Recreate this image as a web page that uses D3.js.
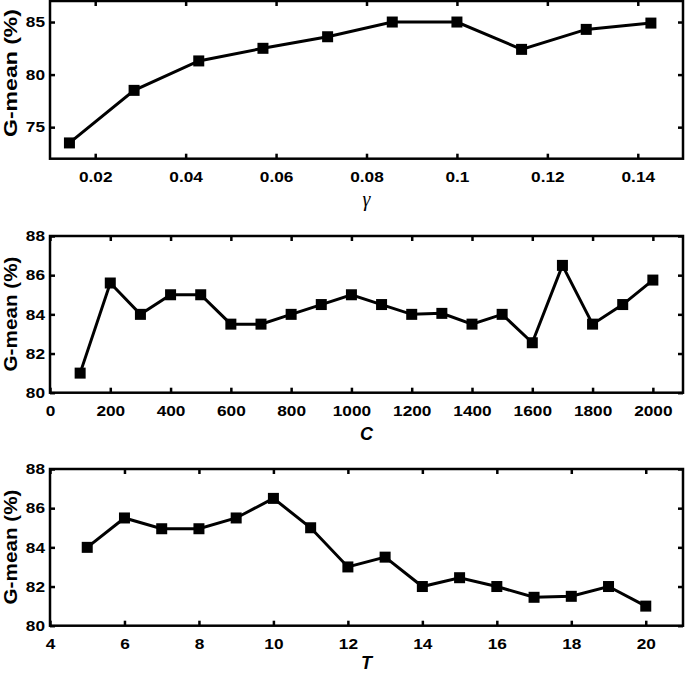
<!DOCTYPE html>
<html><head><meta charset="utf-8">
<script src="https://cdn.jsdelivr.net/npm/d3@7"></script>
<style>body{margin:0;background:#fff} svg{display:block}</style>
</head><body><svg id="c" width="685" height="674"></svg>
<script>
// ---- data ----
const gammaValues = [0.0143, 0.0286, 0.0429, 0.0571, 0.0714, 0.0857, 0.1, 0.1143, 0.1286, 0.1429];
const gammaGmean  = [73.5, 78.5, 81.3, 82.5, 83.6, 85.0, 85.0, 82.4, 84.3, 84.9];
const cValues = [100, 200, 300, 400, 500, 600, 700, 800, 900, 1000, 1100, 1200, 1300, 1400, 1500, 1600, 1700, 1800, 1900, 2000];
const cGmean  = [81.0, 85.6, 84.0, 85.0, 85.0, 83.5, 83.5, 84.0, 84.5, 85.0, 84.5, 84.0, 84.05, 83.5, 84.0, 82.55, 86.5, 83.5, 84.5, 85.75];
const tValues = [5, 6, 7, 8, 9, 10, 11, 12, 13, 14, 15, 16, 17, 18, 19, 20];
const tGmean  = [84.0, 85.5, 84.95, 84.95, 85.5, 86.5, 85.0, 83.0, 83.5, 82.0, 82.45, 82.0, 81.45, 81.5, 82.0, 81.0];
const gammaTicks = [0.02, 0.04, 0.06, 0.08, 0.1, 0.12, 0.14];
const cTicks = [0, 200, 400, 600, 800, 1000, 1200, 1400, 1600, 1800, 2000];
const tTicks = [4, 6, 8, 10, 12, 14, 16, 18, 20];
const gmeanTicks1 = [75, 80, 85];
const gmeanTicks23 = [80, 82, 84, 86, 88];
const yTitle = "G-mean (%)";
const xTitles = ["γ", "C", "T"];

// ---- layout ----
const svg = d3.select("#c");
const L = 50, R = 683;
const panels = [
  {xs: gammaValues, ys: gammaGmean, xDom: [0.01, 0.15], yDom: [72, 87], xTicks: gammaTicks, yTicks: gmeanTicks1,
   top: 1, bottom: 158.7, title: xTitles[0], titleY: 205.5, titleFont: "italic 400 20px 'Liberation Serif', serif",
   labelLen: 128, labelCy: 73},
  {xs: cValues, ys: cGmean, xDom: [0, 2100], yDom: [80, 88], xTicks: cTicks, yTicks: gmeanTicks23,
   top: 236, bottom: 392.7, title: xTitles[1], titleY: 440, titleFont: "italic 700 18px 'Liberation Sans', Arial, sans-serif",
   labelLen: 115, labelCy: 314},
  {xs: tValues, ys: tGmean, xDom: [4, 21], yDom: [80, 88], xTicks: tTicks, yTicks: gmeanTicks23,
   top: 469, bottom: 625.7, title: xTitles[2], titleY: 669, titleFont: "italic 700 18px 'Liberation Sans', Arial, sans-serif",
   labelLen: 115, labelCy: 547}
];
const SX = 1.15;
const tickFont = "'Liberation Sans', Arial, Helvetica, sans-serif";

panels.forEach(p => {
  const x = d3.scaleLinear().domain(p.xDom).range([L, R]);
  const y = d3.scaleLinear().domain(p.yDom).range([p.bottom, p.top]);
  const g = svg.append("g");

  function style(ax) {
    ax.select(".domain").remove();
    ax.selectAll(".tick line").attr("stroke", "#000").attr("stroke-width", 2.5);
    ax.attr("font-family", tickFont).attr("font-size", 15).attr("font-weight", "bold");
    ax.selectAll(".tick text").attr("fill", "#000");
  }

  const bx = g.append("g").attr("transform", `translate(0,${p.bottom})`)
    .call(d3.axisBottom(x).tickValues(p.xTicks).tickSizeInner(-5).tickSizeOuter(0).tickPadding(12.3).tickFormat(d => String(d)));
  style(bx);
  bx.selectAll(".tick text").attr("transform", `scale(${SX},1)`);

  const tx = g.append("g").attr("transform", `translate(0,${p.top})`)
    .call(d3.axisTop(x).tickValues(p.xTicks).tickSizeInner(-5).tickSizeOuter(0).tickFormat(""));
  style(tx);

  const ly = g.append("g").attr("transform", `translate(${L},0)`)
    .call(d3.axisLeft(y).tickValues(p.yTicks).tickSizeInner(-5).tickSizeOuter(0).tickPadding(5).tickFormat(d => String(d)));
  style(ly);
  ly.selectAll(".tick text").attr("x", -5 / SX).attr("transform", `scale(${SX},1)`);

  const ry = g.append("g").attr("transform", `translate(${R},0)`)
    .call(d3.axisRight(y).tickValues(p.yTicks).tickSizeInner(-5).tickSizeOuter(0).tickFormat(""));
  style(ry);

  // frame
  g.append("rect").attr("x", L).attr("y", p.top).attr("width", R - L).attr("height", p.bottom - p.top)
    .attr("fill", "none").attr("stroke", "#000").attr("stroke-width", 2.5);

  const pts = p.xs.map((v, i) => [v, p.ys[i]]);
  g.append("path").datum(pts)
    .attr("d", d3.line().x(d => x(d[0])).y(d => y(d[1])))
    .attr("fill", "none").attr("stroke", "#000").attr("stroke-width", 3).attr("stroke-linejoin", "miter");
  const s = 11;
  g.selectAll("rect.m").data(pts).enter().append("rect").attr("class", "m")
    .attr("x", d => x(d[0]) - s / 2).attr("y", d => y(d[1]) - s / 2)
    .attr("width", s).attr("height", s).attr("fill", "#000");

  // y title
  g.append("text").attr("transform", `translate(16.5,${p.labelCy}) rotate(-90)`)
    .attr("text-anchor", "middle").attr("font-family", tickFont).attr("font-weight", "bold")
    .attr("font-size", 19).attr("textLength", p.labelLen).attr("lengthAdjust", "spacingAndGlyphs")
    .attr("fill", "#000").text(yTitle);

  // x title
  g.append("text").attr("x", (L + R) / 2).attr("y", p.titleY).attr("text-anchor", "middle")
    .style("font", p.titleFont).attr("fill", "#000").text(p.title);
});
</script></body></html>
